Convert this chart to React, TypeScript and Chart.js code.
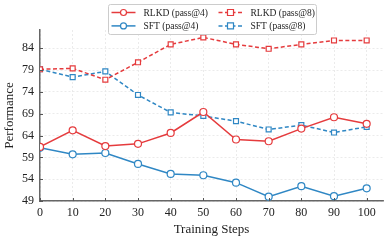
import React, { useEffect, useRef } from "react";
import { Chart, registerables } from "chart.js";

Chart.register(...registerables);

const steps = [0, 10, 20, 30, 40, 50, 60, 70, 80, 90, 100];
const rlkdPass4 = [61.4, 65.2, 61.6, 62.1, 64.6, 69.4, 63.1, 62.7, 65.6, 68.2, 66.7];
const rlkdPass8 = [79.2, 79.4, 76.8, 80.8, 84.9, 86.5, 84.9, 83.9, 84.9, 85.8, 85.8];
const sftPass4 = [61.2, 59.7, 60.0, 57.5, 55.2, 54.9, 53.2, 50.0, 52.4, 50.1, 51.9];
const sftPass8 = [79.2, 77.4, 78.7, 73.3, 69.3, 68.5, 67.3, 65.4, 66.4, 64.7, 66.0];
const yTickValues = [49, 54, 59, 64, 69, 74, 79, 84];
const xTickValues = [0, 10, 20, 30, 40, 50, 60, 70, 80, 90, 100];

const RED = "#e53b3d";
const BLUE = "#2f87c4";
const SERIF = "'Liberation Serif', 'Times New Roman', serif";
const DASH = [4, 2.5];

const toPts = (vals: number[]) => vals.map((v, i) => ({ x: steps[i], y: v }));

const inwardTicksPlugin = {
  id: "inwardTicks",
  afterDatasetsDraw(chart: any) {
    const ctx = chart.ctx;
    const area = chart.chartArea;
    const xs = chart.scales.x;
    const ys = chart.scales.y;
    ctx.save();
    ctx.strokeStyle = "#555555";
    ctx.lineWidth = 1;
    ctx.setLineDash([]);
    ctx.beginPath();
    xTickValues.forEach((v) => {
      const px = Math.round(xs.getPixelForValue(v)) + 0.5;
      ctx.moveTo(px, area.bottom);
      ctx.lineTo(px, area.bottom - 3);
    });
    yTickValues.forEach((v) => {
      const py = Math.round(ys.getPixelForValue(v)) + 0.5;
      ctx.moveTo(area.left, py);
      ctx.lineTo(area.left + 3, py);
    });
    ctx.stroke();
    ctx.restore();
  },
};

const legendPlugin = {
  id: "boxLegend",
  afterDraw(chart: any) {
    const ctx = chart.ctx;
    const area = chart.chartArea;
    const w = 208;
    const h = 30;
    const left = Math.round((area.left + area.right) / 2 - w / 2) + 0.5;
    const top = 4.5;
    ctx.save();
    ctx.beginPath();
    ctx.roundRect(left, top, w, h, 2);
    ctx.fillStyle = "rgba(255,255,255,0.9)";
    ctx.fill();
    ctx.strokeStyle = "#cccccc";
    ctx.lineWidth = 1;
    ctx.stroke();
    const ds = chart.data.datasets;
    ds.forEach((d: any, i: number) => {
      const col = i % 2;
      const row = Math.floor(i / 2);
      const x0 = left + 3 + col * 107;
      const y = top + 8 + row * 13.4;
      ctx.strokeStyle = d.borderColor;
      ctx.lineWidth = 1.5;
      ctx.setLineDash(d.borderDash || []);
      ctx.beginPath();
      ctx.moveTo(x0, y);
      ctx.lineTo(x0 + 24, y);
      ctx.stroke();
      ctx.setLineDash([]);
      ctx.fillStyle = "#ffffff";
      ctx.lineWidth = 1.2;
      ctx.beginPath();
      if (d.pointStyle === "rect") {
        ctx.rect(x0 + 12 - 3, y - 3, 6, 6);
      } else {
        ctx.arc(x0 + 12, y, 3, 0, Math.PI * 2);
      }
      ctx.fill();
      ctx.stroke();
      ctx.fillStyle = "#222222";
      ctx.font = `9.5px ${SERIF}`;
      ctx.textBaseline = "middle";
      ctx.textAlign = "left";
      ctx.fillText(d.label, x0 + 32, y + 0.5);
    });
    ctx.restore();
  },
};

export default function App() {
  const ref = useRef<HTMLCanvasElement>(null);
  useEffect(() => {
    if (!ref.current) return;
    const common = {
      borderWidth: 1.5,
      pointRadius: 3.5,
      pointBorderWidth: 1.2,
      pointBackgroundColor: "#ffffff",
      tension: 0,
      fill: false,
    };
    const chart = new Chart(ref.current, {
      type: "line",
      data: {
        datasets: [
          { ...common, label: "RLKD (pass@4)", data: toPts(rlkdPass4), borderColor: RED, pointBorderColor: RED, pointStyle: "circle" },
          { ...common, label: "RLKD (pass@8)", data: toPts(rlkdPass8), borderColor: RED, pointBorderColor: RED, pointStyle: "rect", borderDash: DASH },
          { ...common, label: "SFT (pass@4)", data: toPts(sftPass4), borderColor: BLUE, pointBorderColor: BLUE, pointStyle: "circle" },
          { ...common, label: "SFT (pass@8)", data: toPts(sftPass8), borderColor: BLUE, pointBorderColor: BLUE, pointStyle: "rect", borderDash: DASH },
        ] as any,
      },
      options: {
        animation: false,
        responsive: false,
        devicePixelRatio: 1,
        layout: { padding: { top: 30, right: 6, left: 0, bottom: 0 } },
        plugins: { legend: { display: false }, tooltip: { enabled: false } },
        scales: {
          x: {
            type: "linear",
            min: 0,
            max: 105,
            afterBuildTicks: (s: any) => {
              s.ticks = xTickValues.map((v) => ({ value: v }));
            },
            afterFit: (s: any) => {
              s.height = 40;
            },
            ticks: { font: { family: SERIF, size: 12 }, color: "#222", padding: 5, maxRotation: 0, autoSkip: false },
            grid: { color: "#e6e6e6", drawTicks: false, lineWidth: 0.8 },
            border: { color: "#666666", width: 1.5, dash: [2, 2] },
            title: { display: true, text: "Training Steps", font: { family: SERIF, size: 13 }, color: "#222", padding: { top: 0, bottom: 4 } },
          },
          y: {
            type: "linear",
            min: 49,
            max: 88.2,
            afterBuildTicks: (s: any) => {
              s.ticks = yTickValues.map((v) => ({ value: v }));
            },
            afterFit: (s: any) => {
              s.width = 40;
            },
            ticks: { font: { family: SERIF, size: 12 }, color: "#222", padding: 6, autoSkip: false },
            grid: { color: "#e6e6e6", drawTicks: false, lineWidth: 0.8 },
            border: { color: "#666666", width: 1.5, dash: [2, 2] },
            title: { display: true, text: "Performance", font: { family: SERIF, size: 13 }, color: "#222", padding: { top: 2, bottom: 0 } },
          },
        },
      } as any,
      plugins: [inwardTicksPlugin, legendPlugin],
    });
    return () => chart.destroy();
  }, []);
  return (
    <div style={{ position: "fixed", left: 0, top: 0, width: 389, height: 241, background: "#fff" }}>
      <canvas ref={ref} width={389} height={241} style={{ display: "block" }} />
    </div>
  );
}
